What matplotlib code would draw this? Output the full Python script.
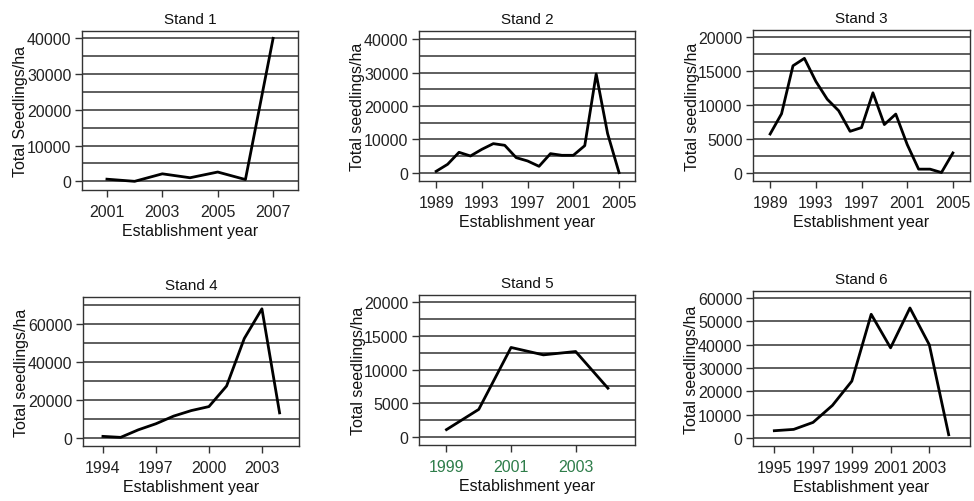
import matplotlib
matplotlib.use("Agg")
import matplotlib.pyplot as plt
import numpy as np

plt.rcParams['font.family'] = ['Liberation Sans', 'DejaVu Sans']

titles = ["Stand 1", "Stand 2", "Stand 3", "Stand 4", "Stand 5", "Stand 6"]
ylabels = ["Total Seedlings/ha", "Total seedlings/ha", "Total seedlings/ha",
           "Total seedlings/ha", "Total seedlings/ha", "Total seedlings/ha"]

years1 = [2001, 2002, 2003, 2004, 2005, 2006, 2007]
vals1 = [600, 0, 2100, 1000, 2600, 500, 40000]

years2 = list(range(1989, 2006))
vals2 = [400, 2500, 6100, 5000, 7000, 8700, 8200, 4500, 3500, 1900, 5700, 5200,
         5200, 8100, 29600, 11700, 0]

years3 = list(range(1989, 2006))
vals3 = [5700, 8700, 15800, 16900, 13500, 10850, 9150, 6100, 6650, 11800, 7100,
         8650, 4150, 500, 500, 0, 2900]

years4 = list(range(1994, 2005))
vals4 = [870, 350, 4300, 7500, 11500, 14400, 16500, 27300, 52200, 67800, 13200]

years5 = [1999, 2000, 2001, 2002, 2003, 2004]
vals5 = [1090, 4100, 13300, 12200, 12700, 7250]

years6 = list(range(1995, 2005))
vals6 = [3130, 3700, 6700, 14000, 24400, 53100, 38700, 55800, 40000, 1400]

xticks = [[2001, 2003, 2005, 2007], [1989, 1993, 1997, 2001, 2005],
          [1989, 1993, 1997, 2001, 2005], [1994, 1997, 2000, 2003],
          [1999, 2001, 2003], [1995, 1997, 1999, 2001, 2003]]
yticks = [[0, 10000, 20000, 30000, 40000], [0, 10000, 20000, 30000, 40000],
          [0, 5000, 10000, 15000, 20000], [0, 20000, 40000, 60000],
          [0, 5000, 10000, 15000, 20000],
          [0, 10000, 20000, 30000, 40000, 50000, 60000]]
grid_step = [5000, 5000, 2500, 10000, 2500, 10000]
xlims = [(2000.1, 2007.9), (1987.5, 2006.4), (1987.5, 2006.5),
         (1992.87, 2005.1), (1998.15, 2004.84), (1993.9, 2005.1)]
ylims = [(-2430, 42040), (-2500, 42500), (-1250, 21100), (-4170, 74000),
         (-1190, 21100), (-3420, 63100)]
tick_colors = ["#222222"] * 4 + ["#2e7d4a", "#222222"]

positions = [
    (0.0842, 0.6195, 0.2218, 0.3167),
    (0.4302, 0.6375, 0.2218, 0.2988),
    (0.7731, 0.6375, 0.2228, 0.3008),
    (0.0852, 0.1096, 0.2218, 0.2968),
    (0.4302, 0.1116, 0.2218, 0.2988),
    (0.7731, 0.1096, 0.2228, 0.3088),
]

data = [(years1, vals1), (years2, vals2), (years3, vals3),
        (years4, vals4), (years5, vals5), (years6, vals6)]

FS = 11.5

fig = plt.figure(figsize=(9.74, 5.02), dpi=100)
for i, (x, y) in enumerate(data):
    ax = fig.add_axes(positions[i])
    ax.set_xlim(*xlims[i])
    ax.set_ylim(*ylims[i])
    lo, hi = ylims[i]
    g = np.arange(0, hi + 1, grid_step[i])
    for gv in g:
        ax.axhline(gv, color="#333333", lw=1.1, zorder=1)
    ax.plot(x, y, color="black", lw=2.0, zorder=3)
    ax.set_xticks(xticks[i])
    ax.set_yticks(yticks[i])
    ax.tick_params(axis='both', direction='out', length=5, width=1,
                   color="#333333", labelsize=FS, pad=2.5)
    ax.tick_params(axis='x', labelcolor=tick_colors[i], pad=5)
    ax.tick_params(axis='y', labelcolor="#222222")
    for sp in ax.spines.values():
        sp.set_color("#333333")
        sp.set_linewidth(1)
    ax.set_title(titles[i], fontsize=11, pad=6, color="#111111")
    ax.set_xlabel("Establishment year", fontsize=FS, labelpad=3, color="#111111")
    ax.set_ylabel(ylabels[i], fontsize=FS, labelpad=-1, color="#111111")

fig.savefig("out.png", dpi=100)
